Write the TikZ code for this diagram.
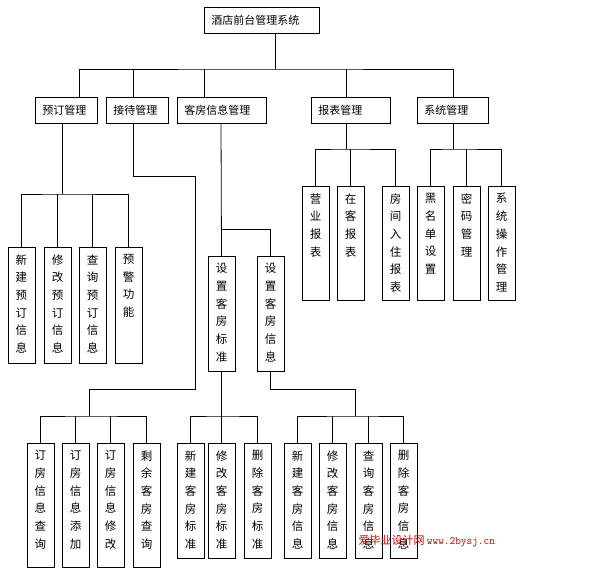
\documentclass[tikz,border=0pt]{standalone}
\usepackage{fontspec}
\setmainfont{Noto Sans CJK SC}
\tikzset{
  topbox/.style={draw, thick, anchor=north west, minimum height=26pt, inner xsep=7pt, align=left, font=\fontsize{11}{12}\selectfont},
  lvbox/.style={draw, thick, anchor=north west, minimum height=26pt, inner xsep=7pt, align=left, font=\fontsize{11}{12}\selectfont},
  colbox/.style={draw, thick, anchor=north, minimum width=27pt, inner sep=0pt, font=\fontsize{11.5}{17.7}\selectfont},
  link/.style={thick}
}
% column box: name, left, top, bottom, text
\newcommand\colbox[5]{%
  \pgfmathsetmacro\cbx{#2+13.5}\pgfmathsetmacro\cbh{#4-#3}%
  \node[colbox, minimum height=\cbh pt] (#1) at (\cbx,#3)
    {\parbox[t][\cbh pt][t]{27pt}{\centering\vspace*{7pt}#5}};}
\begin{document}
\begin{tikzpicture}[x=1pt, y=-1pt]
\useasboundingbox (0,0) rectangle (603,577);

% top
\node[topbox, minimum width=115pt, text width=101pt] (sys) at (204,7) {酒店前台管理系统};

% level 2
\node[lvbox, minimum width=62pt, text width=48pt] (yd) at (35,97) {预订管理};
\node[lvbox, minimum width=62pt, text width=48pt] (jd) at (106,97) {接待管理};
\node[lvbox, minimum width=89pt, text width=75pt] (kf) at (177,97) {客房信息管理};
\node[lvbox, minimum width=79pt, text width=65pt] (bb) at (311,97) {报表管理};
\node[lvbox, minimum width=71pt, text width=57pt] (xt) at (417,97) {系统管理};

\draw[link] (sys.south -| 275,0) -- (275,69);
\draw[link] (yd.north -| 79,0) |- (275,69) -| (xt.north -| 453,0);
\foreach \n/\x in {jd/133, kf/204, bb/346} \draw[link] (\x,69) -- (\n.north -| \x,0);

% 预订管理
\colbox{yd1}{8}{247}{363}{新\\建\\预\\订\\信\\息}
\colbox{yd2}{44}{247}{363}{修\\改\\预\\订\\信\\息}
\colbox{yd3}{79}{247}{363}{查\\询\\预\\订\\信\\息}
\colbox{yd4}{115}{247}{363}{预\\警\\功\\能}
\draw[link] (yd.south -| 62,0) -- (62,194);
\draw[link] (yd1.north) |- (62,194) -| (yd4.north);
\foreach \n in {yd2, yd3} \draw[link] (\n.north) -- (\n.north |- 0,194);

% 报表管理
\colbox{bb1}{302}{186}{300}{营\\业\\报\\表}
\colbox{bb2}{337}{186}{300}{在\\客\\报\\表}
\colbox{bb3}{382}{186}{300}{房\\间\\入\\住\\报\\表}
\draw[link] (bb.south -| 346,0) -- (346,149);
\draw[link] (bb1.north) |- (346,149) -| (bb3.north);
\draw[link] (bb2.north) -- (bb2.north |- 0,149);

% 系统管理
\colbox{xt1}{417}{186}{300}{黑\\名\\单\\设\\置}
\colbox{xt2}{453}{186}{300}{密\\码\\管\\理}
\colbox{xt3}{488}{186}{300}{系\\统\\操\\作\\管\\理}
\draw[link] (xt.south -| 453,0) -- (453,149);
\draw[link] (xt1.north) |- (453,149) -| (xt3.north);
\draw[link] (xt2.north) -- (xt2.north |- 0,149);

% 客房信息管理
\colbox{sz1}{208}{256}{371}{设\\置\\客\\房\\标\\准}
\colbox{sz2}{257}{256}{371}{设\\置\\客\\房\\信\\息}
\draw[link] (kf.south -| 221,0) -- (sz1.north);
\draw[link] (221,229) -| (sz2.north);

% 接待管理
\colbox{jd1}{27}{443}{567}{订\\房\\信\\息\\查\\询}
\colbox{jd2}{62}{443}{567}{订\\房\\信\\息\\添\\加}
\colbox{jd3}{97}{443}{567}{订\\房\\信\\息\\修\\改}
\colbox{jd4}{133}{443}{567}{剩\\余\\客\\房\\查\\询}
\draw[link] (jd.south -| 133,0) |- (195,176) |- (89,389) -- (89,416);
\draw[link] (jd1.north) |- (89,416) -| (jd4.north);
\foreach \n in {jd2, jd3} \draw[link] (\n.north) -- (\n.north |- 0,416);

% 设置客房标准
\colbox{bz1}{177}{443}{558}{新\\建\\客\\房\\标\\准}
\colbox{bz2}{208}{443}{558}{修\\改\\客\\房\\标\\准}
\colbox{bz3}{244}{443}{558}{删\\除\\客\\房\\标\\准}
\draw[link] (sz1.south) -- (bz2.north);
\draw[link] (bz1.north) |- (bz2.north |- 0,416) -| (bz3.north);

% 设置客房信息
\colbox{xx1}{284}{443}{558}{新\\建\\客\\房\\信\\息}
\colbox{xx2}{319}{443}{558}{修\\改\\客\\房\\信\\息}
\colbox{xx3}{355}{443}{558}{查\\询\\客\\房\\信\\息}
\colbox{xx4}{390}{443}{558}{删\\除\\客\\房\\信\\息}
\draw[link] (sz2.south) |- (355,389) -- (355,416);
\draw[link] (xx1.north) |- (355,416) -| (xx4.north);
\foreach \n in {xx2, xx3} \draw[link] (\n.north) -- (\n.north |- 0,416);

% watermark
\node[text=red!80!black, font=\fontsize{11}{12}\selectfont, anchor=west] (wm) at (355,541) {爱毕业设计网 \textcolor{red!70!black}{\ttfamily www.2bysj.cn}};
\end{tikzpicture}
\end{document}
